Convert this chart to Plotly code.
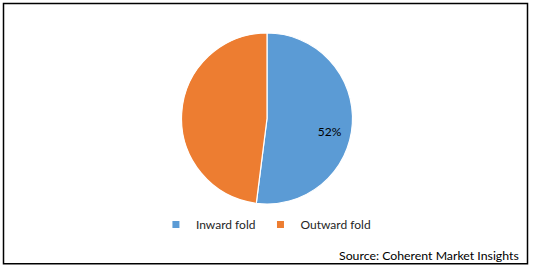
import plotly.graph_objects as go

labels = ["Inward fold", "Outward fold"]
values = [52, 48]
colors = ["#5B9BD5", "#ED7D31"]
shown_text = ["52%", ""]
source_text = "Source: Coherent Market Insights"

W, H = 534, 271
L, R, T, B = 0, 0, 33, 66.5
ph = H - T - B
pw = W - L - R

def px_x(x):
    return (x - L) / pw

def px_y(y):
    return (H - B - y) / ph

fig = go.Figure()
# legend carrier (tiny white-bordered pie hidden in empty white space)
fig.add_trace(go.Pie(
    labels=labels,
    values=values,
    marker=dict(colors=colors, line=dict(color="white", width=5)),
    sort=False,
    direction="clockwise",
    textinfo="none",
    domain=dict(x=[0.05, 0.0502], y=[0.9, 0.9002]),
    showlegend=True,
    hoverinfo="skip",
))
fig.add_trace(go.Pie(
    labels=labels,
    values=values,
    marker=dict(colors=colors, line=dict(color="white", width=1.2)),
    sort=False,
    direction="clockwise",
    rotation=0,
    textinfo="none",
    showlegend=False,
    hoverinfo="label+percent",
))
# transparent ring overlay used only to place the data label further out
fig.add_trace(go.Pie(
    labels=labels,
    values=values,
    hole=0.5,
    marker=dict(colors=["rgba(0,0,0,0)", "rgba(0,0,0,0)"], line=dict(width=0)),
    sort=False,
    direction="clockwise",
    rotation=8,
    text=shown_text,
    textinfo="text",
    textposition="inside",
    insidetextorientation="horizontal",
    insidetextfont=dict(family="Lato", size=12, color="#000000"),
    showlegend=False,
    hoverinfo="skip",
))

fig.update_layout(
    width=W, height=H,
    margin=dict(l=L, r=R, t=T, b=B),
    paper_bgcolor="white",
    plot_bgcolor="white",
    font=dict(family="Lato", size=12, color="#404040"),
    legend=dict(
        orientation="h",
        x=0.498, xanchor="center",
        y=px_y(225), yanchor="middle",
        font=dict(family="Lato", size=12, color="#262626"),
        itemwidth=30,
        traceorder="normal",
    ),
    shapes=[dict(
        type="rect", xref="paper", yref="paper",
        x0=px_x(3.5), x1=px_x(527.5), y0=px_y(264.5), y1=px_y(3.5),
        line=dict(color="black", width=1.5), fillcolor="rgba(0,0,0,0)",
    )],
    annotations=[dict(
        text=source_text, xref="paper", yref="paper",
        x=px_x(521), y=px_y(256), xanchor="right", yanchor="middle",
        showarrow=False, font=dict(family="Lato", size=12.3, color="#000000"),
    )],
)

fig.write_html("out.html")
